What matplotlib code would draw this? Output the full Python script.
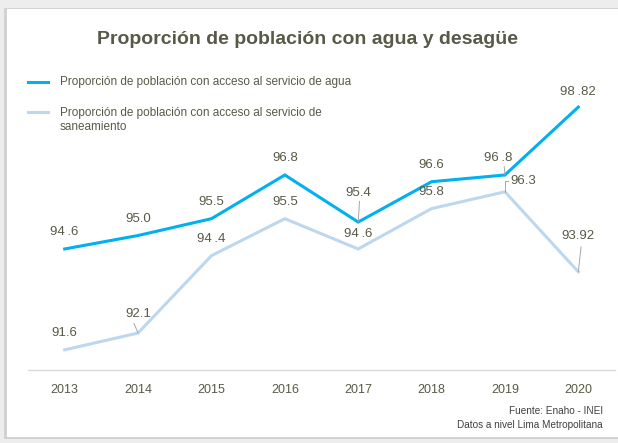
import matplotlib.pyplot as plt
from matplotlib.patches import Rectangle

plt.rcParams['font.family'] = ['Liberation Sans', 'DejaVu Sans']

# data
years = ['2013', '2014', '2015', '2016', '2017', '2018', '2019', '2020']
agua = [94.6, 95.0, 95.5, 96.8, 95.4, 96.6, 96.8, 98.82]
saneamiento = [91.6, 92.1, 94.4, 95.5, 94.6, 95.8, 96.3, 93.92]
agua_labels = ['94\u2009.6', '95.0', '95.5', '96.8', '95.4', '96.6', '96\u2009.8', '98\u2009.82']
san_labels = ['91.6', '92.1', '94\u2009.4', '95.5', '94\u2009.6', '95.8', '96.3', '93.92']

serie_agua = 'Proporción de población con acceso al servicio de agua'
serie_san = 'Proporción de población con acceso al servicio de\nsaneamiento'

c_agua = '#00B0F0'
c_san = '#BDD7EE'
c_text = '#595947'

fig = plt.figure(figsize=(6.18, 4.43), dpi=100)
fig.patch.set_facecolor('white')

# card shadow
fig.patches.append(Rectangle((0.0, 0.0), 1.0, 1.0, transform=fig.transFigure,
                             facecolor='#EDEDED', edgecolor='none', zorder=0))
fig.patches.append(Rectangle((4 / 618, 4 / 443), 1.0, 431 / 443, transform=fig.transFigure,
                             facecolor='#D2D2D2', edgecolor='none', zorder=0))
fig.patches.append(Rectangle((7 / 618, 6 / 443), 1.0, 428 / 443, transform=fig.transFigure,
                             facecolor='white', edgecolor='none', zorder=0))

ax = fig.add_axes([28 / 618, 1 - 370 / 443, 587 / 618, 270 / 443])
ax.set_zorder(3)
ax.set_facecolor('none')
x = list(range(len(years)))

ax.plot(x, saneamiento, color=c_san, lw=2.2, solid_joinstyle='miter')
ax.plot(x, agua, color=c_agua, lw=2.2, solid_joinstyle='miter')

ax.set_xlim(-0.5, len(years) - 0.5)
ax.set_ylim(91.0, 99.03)
ax.set_xticks(x)
ax.set_xticklabels(years, fontsize=9, color=c_text)
ax.tick_params(axis='x', length=0, pad=10)
ax.set_yticks([])
for s in ['top', 'right', 'left']:
    ax.spines[s].set_visible(False)
ax.spines['bottom'].set_color('#D9D9D9')
ax.spines['bottom'].set_linewidth(1.0)

# data labels (offsets in points)
agua_off = [(0, 12), (0, 12), (0, 12), (0, 12), (0, 21), (0, 12), (-5, 12), (0, 11)]
san_off = [(0, 12), (0, 14), (0, 12), (0, 12), (0, 11), (0, 12), (13, 8), (0, 26)]
leader_agua = [4, 6]

for i, v in enumerate(agua):
    dx, dy = agua_off[i]
    ax.annotate(agua_labels[i], (i, v), xytext=(dx, dy), textcoords='offset points',
                ha='center', va='center', fontsize=9.5, color=c_text)
    if i in leader_agua:
        ax.annotate('', (i, v), xytext=(dx * 0.3 + 1, dy - 6), textcoords='offset points',
                    arrowprops=dict(arrowstyle='-', color='#A6A6A6', lw=0.7,
                                    shrinkA=0, shrinkB=0))

for i, v in enumerate(saneamiento):
    dx, dy = san_off[i]
    ax.annotate(san_labels[i], (i, v), xytext=(dx, dy), textcoords='offset points',
                ha='center', va='center', fontsize=9.5, color=c_text)

# leader lines for saneamiento
ax.annotate('', (1, saneamiento[1]), xytext=(-3, 7), textcoords='offset points',
            arrowprops=dict(arrowstyle='-', color='#A6A6A6', lw=0.7, shrinkA=0, shrinkB=0))
ax.plot([6, 6, 6.04], [saneamiento[6], saneamiento[6] + 0.32, saneamiento[6] + 0.32],
        color='#A6A6A6', lw=0.7)
ax.annotate('', (7, saneamiento[7]), xytext=(2, 18), textcoords='offset points',
            arrowprops=dict(arrowstyle='-', color='#A6A6A6', lw=0.7, shrinkA=0, shrinkB=0))

# title
fig.text(0.497, 1 - 40 / 443, 'Proporción de población con agua y desagüe', ha='center',
         va='center', fontsize=14, fontweight='bold', color=c_text)

# legend
fig.lines.append(plt.Line2D([28 / 618, 48 / 618], [1 - 82 / 443] * 2, transform=fig.transFigure,
                            color=c_agua, lw=2.2, zorder=2))
fig.lines.append(plt.Line2D([28 / 618, 48 / 618], [1 - 112 / 443] * 2, transform=fig.transFigure,
                            color=c_san, lw=2.2, zorder=2))
fig.text(60 / 618, 1 - 82 / 443, serie_agua, ha='left', va='center', fontsize=8.5, color=c_text)
fig.text(60 / 618, 1 - 120 / 443, serie_san, ha='left', va='center', fontsize=8.5,
         color=c_text, linespacing=1.25)

# source
fig.text(603 / 618, 1 - 411 / 443, 'Fuente: Enaho - INEI', ha='right', va='center',
         fontsize=7.2, color='#404040')
fig.text(603 / 618, 1 - 425 / 443, 'Datos a nivel Lima Metropolitana', ha='right',
         va='center', fontsize=7.2, color='#404040')

fig.savefig('out.png', dpi=100)
